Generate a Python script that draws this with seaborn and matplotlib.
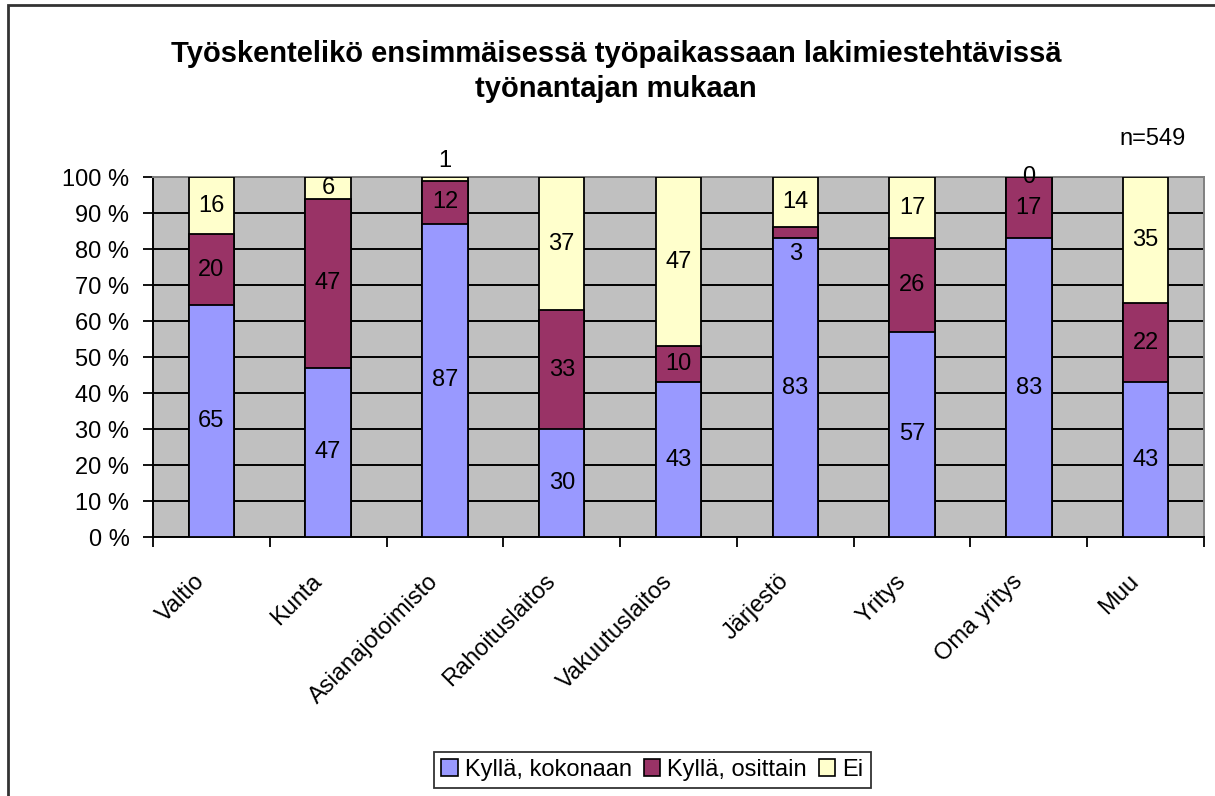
import numpy as np
import pandas as pd
import seaborn as sns
import matplotlib.pyplot as plt
from matplotlib.patches import Rectangle

# data
categories = ['Valtio', 'Kunta', 'Asianajotoimisto', 'Rahoituslaitos', 'Vakuutuslaitos',
              'Järjestö', 'Yritys', 'Oma yritys', 'Muu']
kylla_kokonaan = [65, 47, 87, 30, 43, 83, 57, 83, 43]
kylla_osittain = [20, 47, 12, 33, 10, 3, 26, 17, 22]
ei = [16, 6, 1, 37, 47, 14, 17, 0, 35]
series_names = ['Kyllä, kokonaan', 'Kyllä, osittain', 'Ei']
series_colors = ['#9999FF', '#993366', '#FFFFCC']

TITLE = 'Työskentelikö ensimmäisessä työpaikassaan lakimiestehtävissä\ntyönantajan mukaan'
N_TEXT = 'n=549'

# label nudges (in % units) for the tiny segments that were moved in the original
label_nudge = {(2, 2): 5.0, (5, 1): -6.0}

sns.set_theme(style='white')
plt.rcParams['font.family'] = ['Liberation Sans', 'DejaVu Sans']
plt.rcParams['text.color'] = 'black'
plt.rcParams['xtick.color'] = 'black'
plt.rcParams['ytick.color'] = 'black'

raw = np.array([kylla_kokonaan, kylla_osittain, ei], dtype=float)
pct = raw / raw.sum(axis=0) * 100
cum = np.cumsum(pct, axis=0)

df = pd.DataFrame({'cat': categories})
for i, name in enumerate(series_names):
    df[name] = cum[i]

fig = plt.figure(figsize=(12.15, 7.96), dpi=100)
ax = fig.add_axes([153 / 1215, 1 - 537 / 796, (1204 - 153) / 1215, (537 - 177) / 796])
ax.set_facecolor('#C0C0C0')

# stacked 100% bars: draw the cumulative heights from the top down
for i in [2, 1, 0]:
    sns.barplot(data=df, x='cat', y=series_names[i], color=series_colors[i],
                edgecolor='black', linewidth=1.3, width=0.39, saturation=1,
                ax=ax, zorder=3)

# value labels
for j in range(len(categories)):
    for i in range(3):
        mid = cum[i, j] - pct[i, j] / 2 + label_nudge.get((j, i), 0)
        ax.text(j, mid, f'{int(raw[i, j])}', ha='center', va='center',
                fontsize=17, color='black', zorder=5, clip_on=False)

ax.set_ylim(0, 100)
ax.set_xlim(-0.5, len(categories) - 0.5)
ax.set_yticks(np.arange(0, 101, 10))
ax.set_yticklabels([f'{v} %' for v in range(0, 101, 10)], fontsize=17)
ax.yaxis.grid(True, color='black', linewidth=1.4, zorder=0)
ax.set_axisbelow(True)

# excel style category axis: ticks between categories, labels just left of centres
ax.set_xticks(np.arange(-0.5, len(categories), 1.0))
ax.set_xticklabels([])
ax.set_xticks(np.arange(len(categories)) - 0.15, minor=True)
ax.set_xticklabels(categories, minor=True, rotation=45, ha='right',
                   rotation_mode='anchor', fontsize=17)
ax.tick_params(axis='x', which='major', direction='out', length=7, width=1.3,
               color='black', bottom=True)
ax.tick_params(axis='x', which='minor', length=0, pad=24)
ax.tick_params(axis='y', direction='out', length=7, width=1.3, color='black',
               left=True, pad=10)
ax.set_xlabel('')
ax.set_ylabel('')

for side in ['left', 'bottom']:
    ax.spines[side].set_color('black')
    ax.spines[side].set_linewidth(1.4)
for side in ['top', 'right']:
    ax.spines[side].set_color('#808080')
    ax.spines[side].set_linewidth(1.4)

fig.text(0.507, 0.91, TITLE, ha='center', va='center', fontsize=21,
         fontweight='bold', linespacing=1.3)
fig.text(0.976, 0.826, N_TEXT, ha='right', va='center', fontsize=17)

handles = [Rectangle((0, 0), 1, 1, facecolor=c, edgecolor='black', linewidth=1.2)
           for c in series_colors]
leg = fig.legend(handles, series_names, loc='center', bbox_to_anchor=(0.537, 0.033),
                 ncol=3, fontsize=17, frameon=True, fancybox=False, shadow=False,
                 handlelength=0.7, handleheight=0.7, handletextpad=0.3,
                 columnspacing=0.5, borderpad=0.3)
leg.get_frame().set_edgecolor('black')
leg.get_frame().set_linewidth(1.3)

# outer chart border
fig.patches.append(Rectangle((8 / 1215, -0.05), 1.1, 1 - 5 / 796 + 0.05,
                             transform=fig.transFigure, fill=False,
                             edgecolor='#333333', linewidth=2))

fig.savefig('out.png', dpi=100)
